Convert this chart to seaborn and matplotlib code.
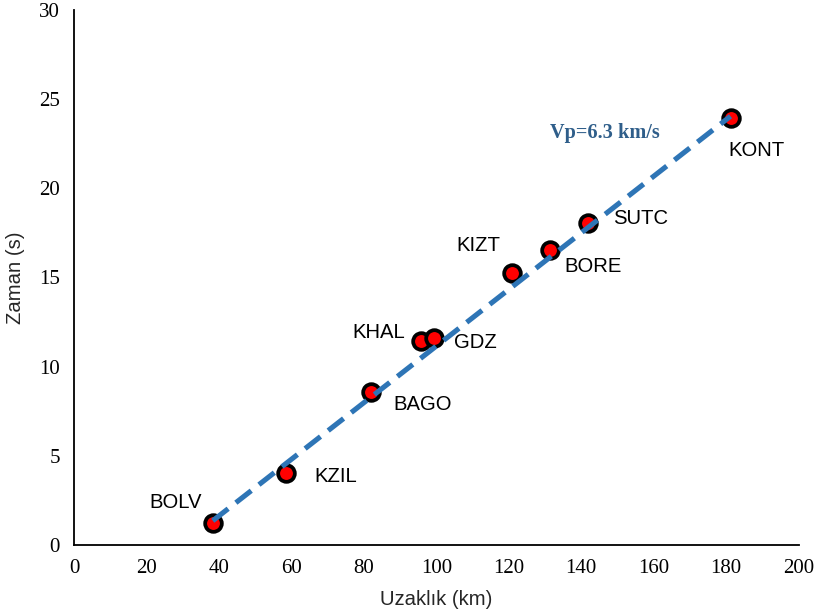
import matplotlib
matplotlib.use("Agg")
import matplotlib.pyplot as plt
import seaborn as sns
import numpy as np
import pandas as pd

stations = ["BOLV", "KZIL", "BAGO", "KHAL", "GDZ", "KIZT", "BORE", "SUTC", "KONT"]
distance_km = [38.3, 58.5, 81.9, 95.8, 99.3, 120.8, 131.3, 141.8, 181.2]
time_s = [1.23, 4.04, 8.58, 11.45, 11.62, 15.26, 16.55, 18.06, 23.95]
# label offsets in pixels (dx, dy) relative to each point
label_dx = [-37, 50, 52, -42, 42, -33, 43, 53, 26]
label_dy = [21, -4, -13, 8, -5, 27, -17, 4, -33]

vp = 6.3
t0 = -4.72

x_ticks = [0, 20, 40, 60, 80, 100, 120, 140, 160, 180, 200]
y_ticks = [0, 5, 10, 15, 20, 25, 30]

sns.set_theme(style="white")
plt.rcParams["font.family"] = ["Liberation Sans", "DejaVu Sans"]

df = pd.DataFrame({"dist": distance_km, "time": time_s, "station": stations})
x_fit = np.array([min(distance_km), max(distance_km)])
fit = pd.DataFrame({"dist": x_fit, "time": x_fit / vp + t0})

fig = plt.figure(figsize=(8.16, 6.16), dpi=100)
ax = fig.add_axes([0.0907, 0.1153, 0.888, 0.8685])

sns.scatterplot(data=df, x="dist", y="time", ax=ax, s=144, color="#FF0000",
                edgecolor="black", linewidth=2.7, zorder=3, legend=False)
sns.lineplot(data=fit, x="dist", y="time", ax=ax, color="#2E75B6", linewidth=3.7,
             linestyle="--", zorder=4, legend=False)
ax.lines[-1].set_dashes((3.8, 1.9))

for name, x, y, dx, dy in zip(stations, distance_km, time_s, label_dx, label_dy):
    ax.annotate(name, (x, y), xytext=(dx, dy), textcoords="offset pixels",
                ha="center", va="center", fontsize=14.6, color="black",
                family=["Liberation Sans", "DejaVu Sans"])

ax.text(146.4, 23.1, "Vp=6.3 km/s", ha="center", va="center", fontsize=14.6,
        fontweight="bold", color="#2F5E8A", family=["Liberation Serif", "DejaVu Serif"])

ax.set_xlim(0, 200)
ax.set_ylim(0, 30)
ax.set_xticks(x_ticks)
ax.set_yticks(y_ticks)
ax.set_xticklabels([str(v) for v in x_ticks], family=["Liberation Serif"], fontsize=15)
ax.set_yticklabels([str(v) for v in y_ticks], family=["Liberation Serif"], fontsize=15)
ax.set_xlabel("Uzaklık (km)", fontsize=14.6, labelpad=9)
ax.set_ylabel("Zaman (s)", fontsize=14.6, labelpad=10)

for side in ["top", "right"]:
    ax.spines[side].set_visible(False)
for side in ["left", "bottom"]:
    ax.spines[side].set_color("black")
    ax.spines[side].set_linewidth(1.3)
ax.tick_params(axis="both", which="major", direction="out", length=5, width=1.3,
               color="black", labelcolor="black", pad=5)
ax.grid(False)

fig.savefig("out.png", dpi=100)
